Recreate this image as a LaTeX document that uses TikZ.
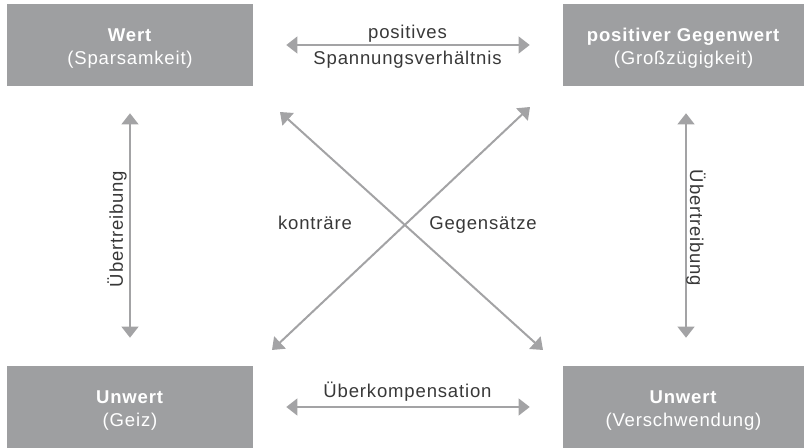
\documentclass[tikz,border=0pt]{standalone}
\usepackage{fontspec}
\setmainfont{Liberation Sans}[LetterSpace=4.5]
\usetikzlibrary{arrows.meta}
\definecolor{boxgray}{HTML}{9E9FA1}
\definecolor{arrgray}{HTML}{A3A3A5}
\definecolor{txtgray}{HTML}{383838}
\begin{document}
\begin{tikzpicture}[x=0.75pt,y=-0.75pt,
  box/.style={fill=boxgray, draw=none, text=white, align=center,
    minimum height=61.5pt, inner sep=0pt,
    font=\fontsize{13.9pt}{17.25pt}\selectfont},
  lbl/.style={text=txtgray, inner sep=0pt,
    font=\fontsize{13.9pt}{17.25pt}\selectfont},
  conn/.style={draw=arrgray, line width=1.5pt,
    {Triangle[length=8.25pt,width=12.5pt]}-{Triangle[length=8.25pt,width=12.5pt]}}
]
\useasboundingbox (0,0) rectangle (804,448);

\node[box, minimum width=184.5pt] (tl) at (130,45)
  {\rule{0pt}{14.4pt}\textbf{Wert}\\(Sparsamkeit)};
\node[box, minimum width=180.75pt] (tr) at (683.5,45)
  {\rule{0pt}{14.4pt}\textbf{positiver Gegenwert}\\(Großzügigkeit)};
\node[box, minimum width=184.5pt] (bl) at (130,407)
  {\rule{0pt}{14.4pt}\textbf{Unwert}\\(Geiz)};
\node[box, minimum width=180.75pt] (br) at (683.5,407)
  {\rule{0pt}{14.4pt}\textbf{Unwert}\\(Verschwendung)};

% horizontal connectors
\draw[conn, shorten <=24.75pt, shorten >=24.75pt] (tl.east) -- (tr.west);
\draw[conn, shorten <=24.75pt, shorten >=24.75pt] (bl.east) -- (br.west);
\node[lbl, anchor=base] (pos) at (407.5,38.5) {positives};
\node[lbl, anchor=base] (span) at (407.5,65) {Spannungsverhältnis};
\node[lbl, anchor=base] (ueko) at (407.5,397.5) {Überkompensation};

% vertical connectors
\draw[conn, shorten <=20.25pt, shorten >=21pt] (tl.south) -- (bl.north);
\draw[conn, shorten <=20.25pt, shorten >=21pt] ([xshift=1.9pt]tr.south) -- ([xshift=1.9pt]br.north);
\node[lbl, rotate=90] (uebl) at (117,229) {Übertreibung};
\node[lbl, rotate=-90] (uebr) at (696,228) {Übertreibung};

% diagonals
\coordinate (d1a) at (280,112);
\coordinate (d1b) at (543,350);
\coordinate (d2a) at (272,350);
\coordinate (d2b) at (530,107);
\draw[conn] (d1a) -- (d1b);
\draw[conn] (d2a) -- (d2b);
\node[lbl, anchor=base] (kon) at (315,230) {konträre};
\node[lbl, anchor=base] (geg) at (483,230) {Gegensätze};
\end{tikzpicture}
\end{document}
